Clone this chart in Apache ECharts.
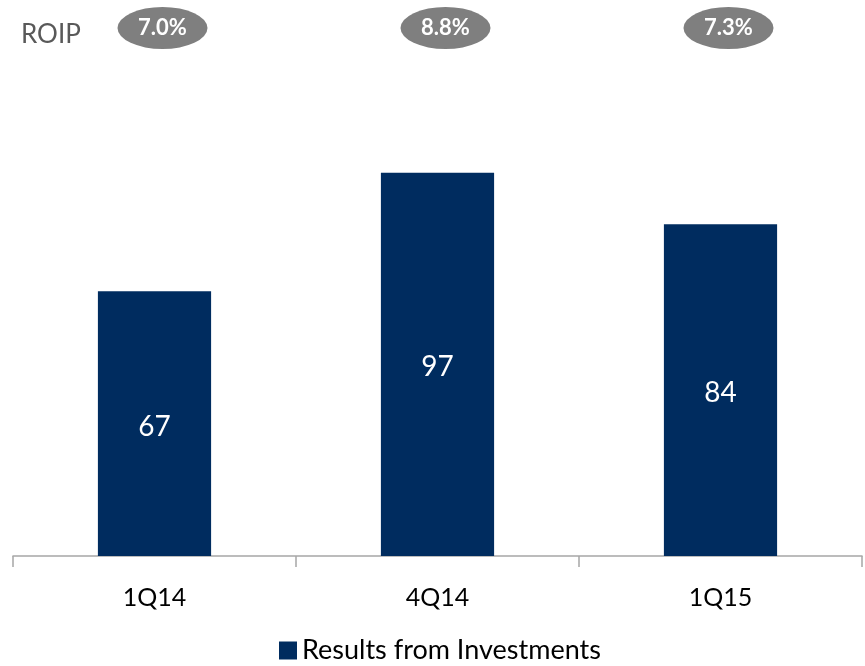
<!DOCTYPE html>
<html>
<head>
<meta charset="utf-8">
<script src="https://cdn.jsdelivr.net/npm/echarts@6/dist/echarts.min.js"></script>
<style>
  html, body { margin: 0; padding: 0; background: #fff; }
  #chart { width: 865px; height: 666px; }
</style>
</head>
<body>
<div id="chart"></div>
<script>
// Quarterly results from investments, with ROIP shown above each quarter
const categories = ['1Q14', '4Q14', '1Q15'];
const results = [67, 97, 84];
const roip = [7.0, 8.8, 7.3];
const seriesName = 'Results from Investments';

const navy = '#002C5F';
const font = 'Lato, "Open Sans", sans-serif';

const chart = echarts.init(document.getElementById('chart'), null, { renderer: 'canvas' });

chart.setOption({
  backgroundColor: '#ffffff',
  animation: false,
  textStyle: { fontFamily: font },
  title: {
    text: 'ROIP',
    left: 16,
    top: 17,
    textStyle: { fontFamily: font, fontSize: 26, fontWeight: 'normal', color: '#595959' }
  },
  legend: {
    data: [seriesName],
    top: 637,
    left: 279,
    icon: 'rect',
    itemWidth: 18,
    itemHeight: 18,
    itemGap: 6,
    padding: 0,
    textStyle: { fontFamily: font, fontSize: 27, color: '#000' }
  },
  grid: [
    { left: 13, right: 3, top: 161, bottom: 110, containLabel: false },
    { left: 13, right: 3, top: 6, height: 44, containLabel: false }
  ],
  xAxis: [
    {
      type: 'category',
      gridIndex: 0,
      data: categories,
      axisLine: { lineStyle: { color: '#a6a6a6', width: 1.5 } },
      axisTick: { show: true, length: 11, lineStyle: { color: '#a6a6a6', width: 1.5 } },
      axisLabel: { margin: 29, fontFamily: font, fontSize: 25, color: '#000' }
    },
    {
      type: 'category',
      gridIndex: 1,
      data: categories,
      show: false
    }
  ],
  yAxis: [
    { type: 'value', gridIndex: 0, min: 0, max: 100, show: false, splitLine: { show: false } },
    { type: 'value', gridIndex: 1, min: -1, max: 1, show: false, splitLine: { show: false } }
  ],
  series: [
    {
      name: seriesName,
      type: 'bar',
      xAxisIndex: 0,
      yAxisIndex: 0,
      data: results,
      barWidth: '40%',
      itemStyle: { color: navy },
      label: {
        show: true,
        position: 'inside',
        offset: [0, 3],
        color: '#fff',
        fontFamily: font,
        fontSize: 28
      }
    },
    {
      name: 'ROIP',
      type: 'scatter',
      xAxisIndex: 1,
      yAxisIndex: 1,
      symbol: 'circle',
      symbolSize: [90, 42],
      symbolOffset: [8, 0],
      clip: false,
      itemStyle: { color: '#7f7f7f', opacity: 1 },
      data: categories.map((c, i) => ({ value: [c, 0], roip: roip[i] })),
      label: {
        show: true,
        position: 'inside',
        color: '#fff',
        fontFamily: font,
        fontWeight: 'bold',
        fontSize: 22,
        formatter: p => p.data.roip.toFixed(1) + '%'
      },
      emphasis: { disabled: true }
    }
  ]
});
</script>
</body>
</html>
